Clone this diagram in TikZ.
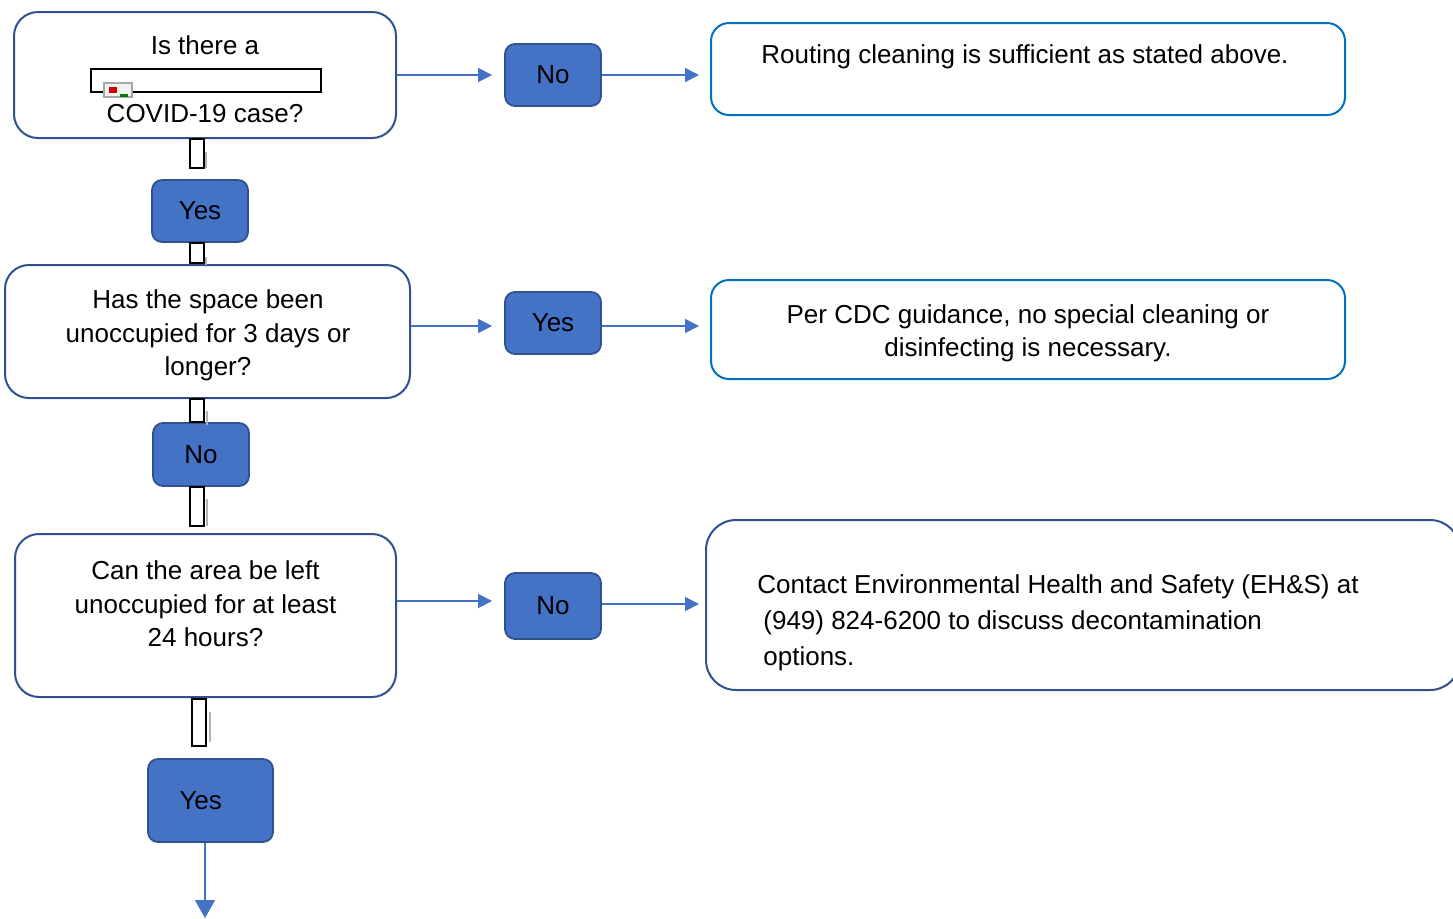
\documentclass[tikz,border=0pt]{standalone}
\usepackage{fontspec}
\setmainfont{Liberation Sans}
\usetikzlibrary{arrows.meta}
\definecolor{dkblue}{HTML}{2F528F}
\definecolor{fillblue}{HTML}{4472C4}
\definecolor{brblue}{HTML}{0070C0}
\tikzset{
  qbox/.style={draw=dkblue, line width=1pt, rounded corners=12pt, fill=white, inner sep=0pt},
  rbox/.style={draw=brblue, line width=1pt, rounded corners=9pt, fill=white, inner sep=0pt},
  ans/.style={draw=dkblue, line width=0.9pt, fill=fillblue, rounded corners=5pt, inner sep=0pt,
     font=\fontsize{13}{16}\selectfont},
  txt/.style={inner sep=0pt, align=center, font=\fontsize{13}{16.75}\selectfont},
  conn/.style={draw=fillblue, line width=0.75pt, -{Triangle[length=7pt,width=7pt]}},
  brk/.style={draw=black, line width=0.6pt, fill=white},
  brkg/.style={draw=gray!60, line width=0.6pt},
}
\begin{document}
\begin{tikzpicture}[x=0.5pt,y=-0.5pt]
\useasboundingbox (0,0) rectangle (1453,918);
% question boxes
\node[qbox, minimum width=191pt, minimum height=63pt] (q1) at (205,75) {};
\node[txt] (q1a) at (205,45) {Is there a};
\node[txt] (q1b) at (205,114) {COVID-19 case?};
\node[qbox, minimum width=202.5pt, minimum height=66.5pt] (q2) at (207.5,331.5) {};
\node[txt] (q2t) at (208,335.5) {Has the space been\\unoccupied for 3 days or\\longer?};
\node[qbox, minimum width=190.5pt, minimum height=81.5pt] (q3) at (205.5,615.5) {};
\node[txt] (q3t) at (205.5,604) {Can the area be left\\unoccupied for at least\\24 hours?};
% broken image bar in q1
\draw[brk] (91,69) rectangle (321,92);
\draw[draw=gray!70, line width=0.6pt, fill=gray!10] (104,83) rectangle (132,97);
\fill[red!85!black] (109,87) rectangle (117,93);
\fill[green!50!black] (120,94) rectangle (128,97);
% answers
\node[ans, minimum width=48pt, minimum height=31pt] (y1) at (200,211) {Yes};
\node[ans, minimum width=48pt, minimum height=31.5pt] (n2) at (201,454.5) {No};
\node[ans, minimum width=62.5pt, minimum height=41.5pt, text width=58pt, align=left] (y3) at (210.5,800.5) {\hspace{13.5pt}Yes};
\node[ans, minimum width=48pt, minimum height=31pt] (n1) at (553,75) {No};
\node[ans, minimum width=48pt, minimum height=31pt] (y2) at (553,323) {Yes};
\node[ans, minimum width=48pt, minimum height=33pt] (n3) at (553,606) {No};
% result boxes
\node[rbox, minimum width=317pt, minimum height=46pt] (r1) at (1028,69) {};
\node[txt] (r1t) at (1025,57) {Routing cleaning is sufficient as stated above.};
\node[rbox, minimum width=317pt, minimum height=49.5pt] (r2) at (1028,329.5) {};
\node[txt] (r2t) at (1028,333.5) {Per CDC guidance, no special cleaning or\\disinfecting is necessary.};
\node[qbox, rounded corners=15pt, minimum width=377pt, minimum height=85pt] (r3) at (1083,605) {};
\node[txt, align=left, anchor=west, font=\fontsize{13}{18}\selectfont] (r3t) at (757,623) {Contact Environmental Health and Safety (EH\&S) at\\\hspace{3pt}(949) 824-6200 to discuss decontamination\\\hspace{3pt}options.};
% broken image connectors
\draw[brk] (190,139) rectangle (204,168);
\draw[brkg] (206,152) -- (206,168);
\draw[brk] (190,243) rectangle (204,263);
\draw[brkg] (206,257) -- (206,265);
\draw[brk] (190,399) rectangle (204,422);
\draw[brkg] (207,411) -- (207,425);
\draw[brk] (190,487) rectangle (204,526);
\draw[brkg] (207,499) -- (207,526);
\draw[brk] (192,699) rectangle (206,746);
\draw[brkg] (210,712) -- (210,742);
% connectors
\coordinate (e1) at (205,918);
\coordinate (h2) at (0,326);
\coordinate (h3) at (0,601);
\coordinate (h3b) at (0,604);
\draw[conn, shorten >=6pt] (q1.east |- n1.west) -- (n1.west);
\draw[conn, shorten >=5.5pt] (n1.east) -- (n1.east -| r1.west);
\draw[conn, shorten >=6pt] (q2.east |- h2) -- (y2.west |- h2);
\draw[conn, shorten >=5.5pt] (y2.east |- h2) -- (r2.west |- h2);
\draw[conn, shorten >=6pt] (q3.east |- h3) -- (n3.west |- h3);
\draw[conn, shorten >=3pt] (n3.east |- h3b) -- (r3.west |- h3b);
\draw[draw=fillblue, line width=0.75pt, -{Triangle[length=9pt,width=10pt]}] (y3.south -| e1) -- (e1);
\end{tikzpicture}
\end{document}
